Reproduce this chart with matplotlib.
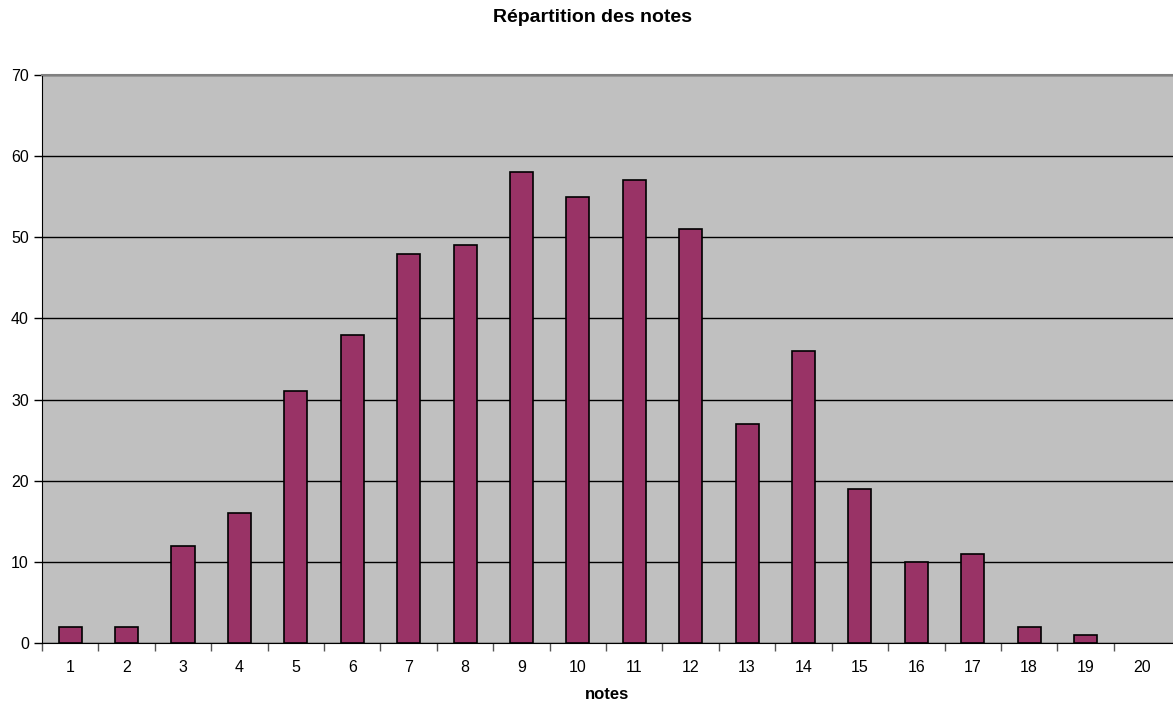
#!/usr/bin/env python3
"""Bar chart: Répartition des notes."""

import matplotlib

matplotlib.use("Agg")
import matplotlib.pyplot as plt
from matplotlib.ticker import FixedLocator, NullFormatter

notes = list(range(1, 21))
counts = [2, 2, 12, 16, 31, 38, 48, 49, 58, 55, 57, 51, 27, 36, 19, 10, 11, 2, 1, 0]
y_ticks = [0, 10, 20, 30, 40, 50, 60, 70]

BAR_COLOR = "#993366"
BG_COLOR = "#C0C0C0"

plt.rcParams["font.family"] = ["Liberation Sans", "DejaVu Sans"]

fig = plt.figure(figsize=(11.73, 7.02), dpi=100)
ax = fig.add_axes([42 / 1173, 59 / 702, 1131 / 1173, 568 / 702])
ax.set_facecolor(BG_COLOR)

# empty categories get no outline (Excel draws nothing there)
edge_widths = [1.2 if c > 0 else 0.0 for c in counts]
ax.bar(notes, counts, width=0.41, color=BAR_COLOR, edgecolor="black",
       linewidth=edge_widths, zorder=3)

ax.set_xlim(0.5, 20.55)
ax.set_ylim(0, 70)
ax.set_yticks(y_ticks)
ax.yaxis.grid(True, color="black", linewidth=1.0, zorder=1)
ax.set_axisbelow(True)

# category boundaries get the ticks, centres get the labels
ax.xaxis.set_major_locator(FixedLocator([n + 0.5 for n in [0] + notes[:-1]]))
ax.xaxis.set_major_formatter(NullFormatter())
ax.xaxis.set_minor_locator(FixedLocator(notes))
ax.set_xticklabels([str(n) for n in notes], minor=True)
ax.tick_params(axis="x", which="major", length=6, width=1, color="#555555",
               direction="out")
ax.tick_params(axis="x", which="minor", length=0, pad=12, labelsize=11.5)
ax.tick_params(axis="y", length=6, width=1, labelsize=11.5, direction="out")

ax.spines["top"].set_color("#808080")
ax.spines["top"].set_linewidth(1.5)
ax.spines["right"].set_visible(False)
ax.spines["left"].set_color("black")
ax.spines["bottom"].set_color("black")

ax.set_xlabel("notes", fontsize=12, fontweight="bold", labelpad=9)
fig.text(0.5047, 1 - 17 / 702, "Répartition des notes", ha="center",
         va="center", fontsize=14, fontweight="bold")

fig.savefig("out.png", dpi=100)
plt.close(fig)
